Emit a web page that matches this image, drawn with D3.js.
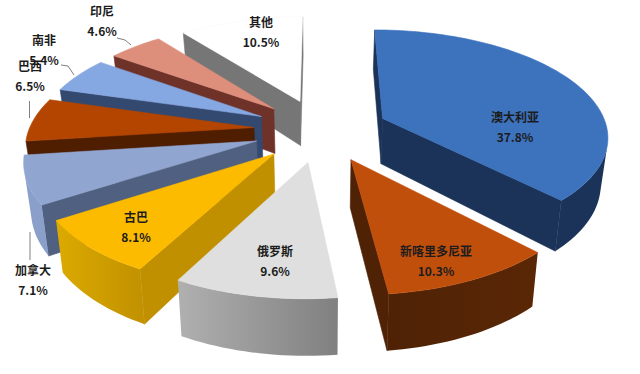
<!DOCTYPE html>
<html lang="zh">
<meta charset="utf-8">
<head>
    <script src='https://d3js.org/d3.v7.min.js'></script>
    <style>
        body { margin: 0; background: #fff; }
        text { font-family: "Noto Sans CJK SC", sans-serif; font-size: 12px; font-weight: 700; fill: #1c1c1c; text-anchor: middle; }
    </style>
</head>
<body>
<script>
    var countries = ["澳大利亚", "新喀里多尼亚", "俄罗斯", "古巴", "加拿大", "巴西", "南非", "印尼", "其他"];
    var shares = [37.8, 10.3, 9.6, 8.1, 7.1, 6.5, 5.4, 4.6, 10.5];

    var topColors = ["#3d72bd", "#c14f0c", "#dfdfdf", "#fdbb00", "#90a5d0", "#b34500", "#86a8e2", "#de8f7c", "#ffffff"];
    var edgeColors = ["#1b3358", "#4f2205", "#7d7d7d", "#c09000", "#4f6080", "#4f1d00", "#33496f", "#6e3228", "#767676"];
    var rimFrom = ["#1b3358", "#5a2706", "#808080", "#c29200", "#8a9fca", "#4f1d00", "#33496f", "#6e3228", "#767676"];
    var rimTo = ["#1b3358", "#4f2205", "#b0b0b0", "#dcaa00", "#8a9fca", "#4f1d00", "#33496f", "#6e3228", "#767676"];

    // label centre of the name line, the percent goes 20px under it
    var labelAt = [[515, 118], [436, 252], [275, 252], [136, 218], [33, 271], [30, 67], [44, 41], [102, 12], [261, 23]];
    var leaders = [
        [[30, 232], [30, 260]],
        [[29.5, 101], [29.5, 118]],
        [[61, 65], [68, 66], [74, 75]],
        [[117, 38], [125, 40], [131, 45]]
    ];

    // perspective of the disc
    var cx = 321, cy = 130;
    var radius = 225, flat = 105, persp = 0.15;
    var explode = 0.3, depth = 46, shrink = 0.975;

    var svg = d3.select("body")
        .append("svg")
        .attr("width", 640)
        .attr("height", 374);
    var defs = svg.append("defs");

    var pie = d3.pie().sort(null).startAngle(0).endAngle(2 * Math.PI);
    var slices = pie(shares);

    // angle is clockwise from 12 o'clock, r in disc radii, low=true is the under side
    function project(d, angle, r, low) {
        var mid = (d.startAngle + d.endAngle) / 2;
        var X = explode * Math.sin(mid) + r * Math.sin(angle);
        var Y = -explode * Math.cos(mid) - r * Math.cos(angle);
        var s = 1 / (1 - persp * Y);
        var k = low ? shrink : 1;
        return [cx + X * radius * s * k, cy + Y * flat * s + (low ? depth * s : 0)];
    }

    function arcAngles(d) {
        var n = Math.ceil((d.endAngle - d.startAngle) / 0.03);
        return d3.range(n + 1).map(function(i) {
            return d.startAngle + (d.endAngle - d.startAngle) * i / n;
        });
    }

    var line = d3.line();
    var order = slices.slice().sort(function(a, b) {
        var ma = (a.startAngle + a.endAngle) / 2, mb = (b.startAngle + b.endAngle) / 2;
        return Math.cos(mb) - Math.cos(ma);
    });

    function face(points, color) {
        svg.append("path")
            .attr("d", line(points) + "Z")
            .attr("fill", color)
            .attr("stroke", color)
            .attr("stroke-width", 0.6);
    }

    order.forEach(function(d) {
        var i = d.index;

        // flat walls on both sides of the wedge
        [[d.startAngle, 1], [d.endAngle, -1]].forEach(function(w) {
            var q = [project(d, 0, 0, false), project(d, w[0], 1, false), project(d, w[0], 1, true), project(d, 0, 0, true)];
            if (d3.polygonArea(q) * w[1] > 0) face(q, edgeColors[i]);
        });

        // outer wall: only the part that faces the viewer, one path with a gradient
        var angles = arcAngles(d);
        var seen = d3.pairs(angles).filter(function(p) {
            var q = [project(d, p[0], 1, false), project(d, p[1], 1, false), project(d, p[1], 1, true), project(d, p[0], 1, true)];
            return d3.polygonArea(q) > 0;
        });
        if (seen.length) {
            var a0 = seen[0][0], a1 = seen[seen.length - 1][1];
            var shown = angles.filter(function(a) { return a >= a0 && a <= a1; });
            var upper = shown.map(function(a) { return project(d, a, 1, false); });
            var lower = shown.map(function(a) { return project(d, a, 1, true); }).reverse();
            var grad = defs.append("linearGradient")
                .attr("id", "rim" + i)
                .attr("gradientUnits", "userSpaceOnUse")
                .attr("x1", project(d, d.startAngle, 1, false)[0])
                .attr("x2", project(d, d.endAngle, 1, false)[0])
                .attr("y1", 0)
                .attr("y2", 0);
            grad.append("stop").attr("offset", 0).attr("stop-color", rimFrom[i]);
            grad.append("stop").attr("offset", 1).attr("stop-color", rimTo[i]);
            svg.append("path")
                .attr("d", line(upper.concat(lower)) + "Z")
                .attr("fill", "url(#rim" + i + ")");
        }

        // top of the wedge
        var top = [project(d, 0, 0, false)].concat(angles.map(function(a) {
            return project(d, a, 1, false);
        }));
        svg.append("path")
            .attr("d", line(top) + "Z")
            .attr("fill", topColors[i])
            .attr("stroke", i == 8 ? "#f8f8f8" : topColors[i])
            .attr("stroke-width", 0.6);
    });

    svg.selectAll(".leader")
        .data(leaders)
        .enter()
        .append("path")
        .attr("class", "leader")
        .attr("d", function(d) { return line(d); })
        .attr("fill", "none")
        .attr("stroke", "#808080")
        .attr("stroke-width", 1);

    var label = svg.selectAll(".label")
        .data(countries)
        .enter()
        .append("g")
        .attr("class", "label")
        .attr("transform", function(d, i) {
            return "translate(" + labelAt[i][0] + "," + labelAt[i][1] + ")";
        });

    label.append("text")
        .attr("y", 4)
        .text(function(d) { return d; });

    label.append("text")
        .attr("y", 24)
        .text(function(d, i) { return shares[i].toFixed(1) + "%"; });
</script>
</body>
</html>
